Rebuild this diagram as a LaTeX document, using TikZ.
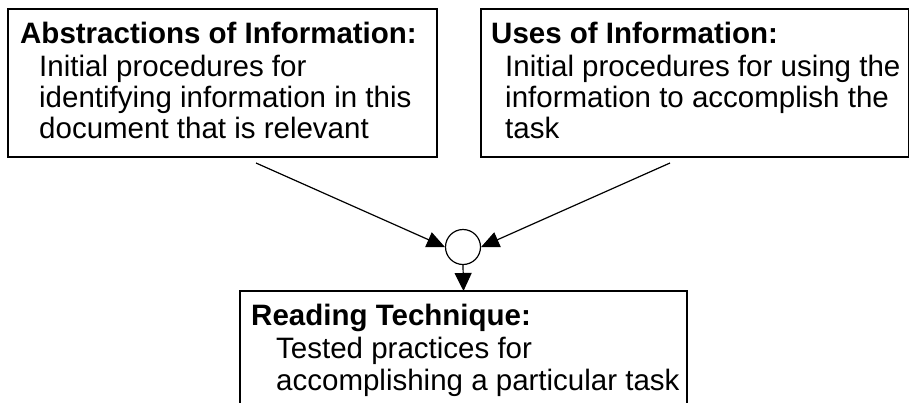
\documentclass[tikz,border=0pt]{standalone}
\usepackage{fontspec}
\setmainfont{Liberation Sans}
\usetikzlibrary{arrows.meta}
\begin{document}
\begin{tikzpicture}[x=1pt,y=-1pt,
  box/.style={draw, line width=1.4pt, inner sep=0pt, outer sep=0pt, anchor=north west},
  txt/.style={anchor=base west, inner sep=0pt, font=\fontsize{29.5}{31}\selectfont},
  head/.style={anchor=base west, inner sep=0pt, font=\fontsize{29.5}{31}\selectfont\bfseries},
  conn/.style={line width=1.2pt, -{Triangle[length=18pt,width=16pt]}},
  drop/.style={line width=1.2pt, -{Triangle[length=18pt,width=17pt]}}]
\useasboundingbox (0,0) rectangle (909,402);

% the three boxes
\node[box, minimum width=429pt, minimum height=148pt] (abs) at (8,9) {};
\node[box, minimum width=428pt, minimum height=148pt] (use) at (481,9) {};
\node[box, minimum width=447pt, minimum height=140pt] (tech) at (240,291) {};

% joining circle
\node[circle, draw, line width=1.2pt, minimum size=35pt, inner sep=0pt] (join) at (463,247) {};

% box texts
\node[head] (absh) at (20,43) {Abstractions of Information:};
\node[txt] (abs1) at (39,76) {Initial procedures for};
\node[txt] (abs2) at (39,107) {identifying information in this};
\node[txt] (abs3) at (39,138) {document that is relevant};

\node[head] (useh) at (491,43) {Uses of Information:};
\node[txt] (use1) at (505,76) {Initial procedures for using the};
\node[txt] (use2) at (505,107) {information to accomplish the};
\node[txt] (use3) at (505,138) {task};

\node[head] (techh) at (251,325) {Reading Technique:};
\node[txt] (tech1) at (276,358) {Tested practices for};
\node[txt] (tech2) at (276,390) {accomplishing a particular task};

% connectors
\coordinate (absout) at (256,163);
\coordinate (useout) at (670,163);
\draw[conn] (absout) -- (join.west);
\draw[conn] (useout) -- (join.east);
\draw[drop] (join.south) -- (tech.north);
\end{tikzpicture}
\end{document}
